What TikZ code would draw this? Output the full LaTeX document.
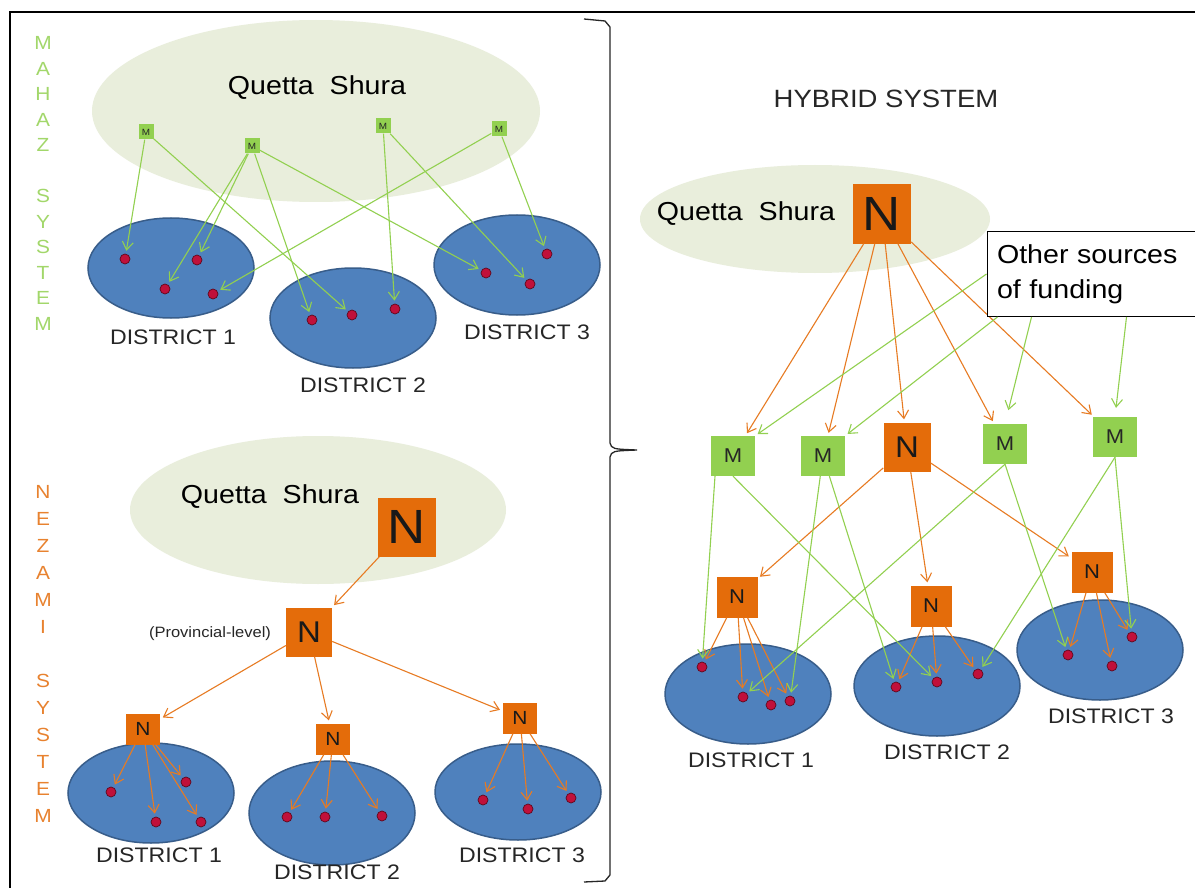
\documentclass[tikz,border=0pt]{standalone}
\usepackage{fontspec}
\setmainfont{Liberation Sans}[FakeStretch=1.1]
\usetikzlibrary{shapes.geometric,arrows.meta}

\definecolor{shurafill}{HTML}{E9EEDC}
\definecolor{mgreen}{HTML}{92D050}
\definecolor{norange}{HTML}{E46C0A}
\definecolor{distfill}{HTML}{4F81BD}
\definecolor{distline}{HTML}{385D8A}
\definecolor{dotred}{HTML}{C0103A}
\definecolor{textgray}{HTML}{262626}

\newcommand\fs[2]{\fontsize{#1}{#2}\selectfont}

\begin{document}
\begin{tikzpicture}[x=1pt,y=-1pt,
    shuraoval/.style={ellipse,fill=shurafill,inner sep=0},
    district/.style={ellipse,draw=distline,line width=1.5pt,fill=distfill,
      minimum width=166pt,minimum height=100pt,inner sep=0},
    member/.style={circle,fill=dotred,draw=dotred!50!black,line width=0.7pt,
      minimum size=10pt,inner sep=0},
    mbox/.style={fill=mgreen,text=black!85,inner sep=0},
    nbox/.style={fill=norange,text=black!90,inner sep=0},
    garrow/.style={draw=mgreen,line width=1.1pt,
      -{Straight Barb[length=8pt,width=11pt]},shorten >=3pt},
    oarrow/.style={draw=norange!90!white,line width=1.1pt,
      -{Straight Barb[length=8pt,width=11pt]},shorten >=3pt},
    dlabel/.style={font=\fs{21}{24},text=textgray},
    qlabel/.style={font=\fs{26}{30},text=black},
    sideletter/.style={font=\fs{19}{20}}
  ]
    \useasboundingbox (0,0) rectangle (1195,888);
    \fill[white] (0,0) rectangle (1195,888);
    \draw[line width=2pt] (10,888) -- (10,12) -- (1195,12);

    % brace
    \draw[line width=1.3pt,textgray] (584,19) -- (605,21) -- (610,27) -- (610,443)
      .. controls (612,449) .. (637,450)
      .. controls (612,451) .. (610,457) -- (610,875) -- (605,881) -- (584,882);

    % mahaz system
    \begin{scope}
      \foreach \l [count=\i] in {M,A,H,A,Z,{},S,Y,S,T,E,M}
        \node[sideletter,text=mgreen!85!white] (mahaz\i) at (43,{43+25.5*(\i-1)}) {\l};

      \node[shuraoval,minimum width=448pt,minimum height=182pt] (shuraA) at (316,111) {};
      \node[qlabel] (qsA) at (317,88) {Quetta\ \ Shura};

      \node[district] (dA1) at (171,268) {};
      \node[district] (dA2) at (353,318) {};
      \node[district] (dA3) at (517,265) {};
      \node[dlabel] (lA1) at (173,337) {DISTRICT 1};
      \node[dlabel] (lA2) at (363,385) {DISTRICT 2};
      \node[dlabel] (lA3) at (527,332) {DISTRICT 3};

      \node[member] (a1) at (125,259) {};
      \node[member] (a2) at (197,260) {};
      \node[member] (a3) at (165,289) {};
      \node[member] (a4) at (213,294) {};
      \node[member] (b1) at (312,320) {};
      \node[member] (b2) at (352,315) {};
      \node[member] (b3) at (395,309) {};
      \node[member] (c1) at (486,273) {};
      \node[member] (c2) at (530,284) {};
      \node[member] (c3) at (547,254) {};

      \node[mbox,minimum size=15pt,font=\fs{9}{10}] (mA1) at (146,132) {M};
      \node[mbox,minimum size=15pt,font=\fs{9}{10}] (mA2) at (252,146) {M};
      \node[mbox,minimum size=15pt,font=\fs{9}{10}] (mA3) at (383,126) {M};
      \node[mbox,minimum size=15pt,font=\fs{9}{10}] (mA4) at (499,129) {M};

      \draw[garrow] (mA1) -- (a1);
      \draw[garrow] (mA1) -- (b2);
      \draw[garrow] (mA2) -- (a3);
      \draw[garrow] (mA2) -- (a2);
      \draw[garrow] (mA2) -- (b1);
      \draw[garrow] (mA2) -- (c1);
      \draw[garrow] (mA3) -- (b3);
      \draw[garrow] (mA3) -- (c2);
      \draw[garrow] (mA4) -- (a4);
      \draw[garrow] (mA4) -- (c3);
    \end{scope}

    % nezami system
    \begin{scope}
      \foreach \l [count=\i] in {N,E,Z,A,M,I,{},S,Y,S,T,E,M}
        \node[sideletter,text=norange!85!white] (nezami\i) at (43,{492+27*(\i-1)}) {\l};

      \node[shuraoval,minimum width=376pt,minimum height=148pt] (shuraB) at (318,510) {};
      \node[qlabel] (qsB) at (270,497) {Quetta\ \ Shura};

      \node[district] (dB1) at (151,793) {};
      \node[district,minimum height=104pt] (dB2) at (332,813) {};
      \node[district,minimum height=96pt] (dB3) at (518,792) {};
      \node[dlabel] (lB1) at (159,855) {DISTRICT 1};
      \node[dlabel] (lB2) at (337,872) {DISTRICT 2};
      \node[dlabel] (lB3) at (522,855) {DISTRICT 3};

      \node[member] (p1) at (111,792) {};
      \node[member] (p2) at (186,782) {};
      \node[member] (p3) at (156,822) {};
      \node[member] (p4) at (201,822) {};
      \node[member] (q1) at (287,817) {};
      \node[member] (q2) at (325,817) {};
      \node[member] (q3) at (382,816) {};
      \node[member] (r1) at (483,800) {};
      \node[member] (r2) at (528,809) {};
      \node[member] (r3) at (571,798) {};

      \node[nbox,minimum width=58pt,minimum height=59pt,font=\fs{48}{50}] (nB0) at (407,527) {N};
      \node[nbox,minimum width=46pt,minimum height=49pt,font=\fs{30}{32}] (nP) at (309,632) {N};
      \node[font=\fs{15}{17},text=textgray] (prov) at (210,634) {(Provincial-level)};
      \node[nbox,minimum width=34pt,minimum height=31pt,font=\fs{19}{20}] (nB1) at (143,729) {N};
      \node[nbox,minimum width=34pt,minimum height=31pt,font=\fs{19}{20}] (nB2) at (333,739) {N};
      \node[nbox,minimum width=34pt,minimum height=31pt,font=\fs{19}{20}] (nB3) at (520,718) {N};

      \draw[oarrow] (nB0) -- (nP);
      \draw[oarrow] (nP) -- (nB1);
      \draw[oarrow] (nP) -- (nB2);
      \draw[oarrow] (nP) -- (nB3);
      \foreach \d in {p1,p2,p3,p4}
        \draw[oarrow] (nB1) -- (\d);
      \foreach \d in {q1,q2,q3}
        \draw[oarrow] (nB2) -- (\d);
      \foreach \d in {r1,r2,r3}
        \draw[oarrow] (nB3) -- (\d);
    \end{scope}

    % hybrid system
    \begin{scope}
      \node[font=\fs{25}{28},text=textgray] (hybrid) at (886,99) {HYBRID SYSTEM};

      \node[shuraoval,minimum width=350pt,minimum height=108pt] (shuraC) at (815,219) {};
      \node[qlabel] (qsC) at (746,214) {Quetta\ \ Shura};
      \node[nbox,minimum width=58pt,minimum height=59pt,font=\fs{48}{50}] (nC0) at (882,214) {N};

      \node[district] (dC1) at (748,694) {};
      \node[district] (dC2) at (937,686) {};
      \node[district] (dC3) at (1100,650) {};
      \node[dlabel] (lC1) at (751,760) {DISTRICT 1};
      \node[dlabel] (lC2) at (947,752) {DISTRICT 2};
      \node[dlabel] (lC3) at (1111,716) {DISTRICT 3};

      \node[member] (s1) at (702,667) {};
      \node[member] (s2) at (743,697) {};
      \node[member] (s3) at (771,705) {};
      \node[member] (s4) at (790,701) {};
      \node[member] (t1) at (896,687) {};
      \node[member] (t2) at (937,682) {};
      \node[member] (t3) at (978,674) {};
      \node[member] (u1) at (1068,655) {};
      \node[member] (u2) at (1112,666) {};
      \node[member] (u3) at (1132,637) {};

      \node[mbox,minimum width=44pt,minimum height=40pt,font=\fs{20}{22}] (mC1) at (733,456) {M};
      \node[mbox,minimum width=44pt,minimum height=40pt,font=\fs{20}{22}] (mC2) at (823,456) {M};
      \node[nbox,minimum width=47pt,minimum height=49pt,font=\fs{30}{32}] (nC) at (907,447) {N};
      \node[mbox,minimum width=44pt,minimum height=40pt,font=\fs{20}{22}] (mC3) at (1005,444) {M};
      \node[mbox,minimum width=44pt,minimum height=40pt,font=\fs{20}{22}] (mC4) at (1115,437) {M};

      \node[nbox,minimum size=41pt,font=\fs{20}{22}] (nC1) at (737,597) {N};
      \node[nbox,minimum size=41pt,font=\fs{20}{22}] (nC2) at (931,606) {N};
      \node[nbox,minimum size=41pt,font=\fs{20}{22}] (nC3) at (1092,572) {N};

      \foreach \d in {mC1,mC2,nC,mC3,mC4}
        \draw[oarrow] (nC0) -- (\d);
      \foreach \d in {nC1,nC2,nC3}
        \draw[oarrow] (nC) -- (\d);
      \foreach \d in {s1,s2,s3,s4}
        \draw[oarrow] (nC1) -- (\d);
      \foreach \d in {t1,t2,t3}
        \draw[oarrow] (nC2) -- (\d);
      \foreach \d in {u1,u2,u3}
        \draw[oarrow] (nC3) -- (\d);

      \draw[garrow] ([xshift=-18pt]mC1.south) -- (s1);
      \draw[garrow] (mC1.south) -- (t2);
      \draw[garrow] (mC2) -- (s4);
      \draw[garrow] (mC2) -- (t1);
      \draw[garrow] (mC3.south) -- (s2);
      \draw[garrow] (mC3.south) -- (u1);
      \draw[garrow] (mC4.south) -- (t3);
      \draw[garrow] (mC4.south) -- (u3);

      \node[draw,line width=1pt,fill=white,text width=190pt,align=left,
        inner xsep=10pt,minimum height=85pt,font=\fs{26}{35}] (funding) at (1092,274)
        {Other sources\\of funding};

      \draw[garrow] (funding.west) -- (mC1.north east);
      \draw[garrow] ([xshift=11pt]funding.south west) -- (mC2.north east);
      \draw[garrow,shorten >=14pt] ([xshift=45pt]funding.south west) -- (mC3.north);
      \draw[garrow,shorten >=9pt] ([xshift=140pt]funding.south west) -- (mC4.north);
    \end{scope}
  \end{tikzpicture}
\end{document}
